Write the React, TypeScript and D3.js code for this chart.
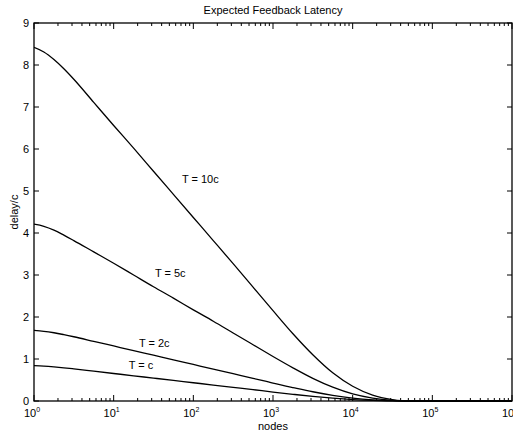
import React from "react";
import * as d3 from "d3";

const nodes = [1, 1.33, 1.78, 2.37, 3.16, 5.62, 10, 17.8, 31.6, 56.2, 100, 178, 316, 562, 1000, 1780, 3160, 5620, 10000, 17800, 31600, 50000, 100000, 1000000];
const t10c = [8.42, 8.31, 8.13, 7.91, 7.66, 7.11, 6.56, 6.02, 5.47, 4.92, 4.37, 3.82, 3.27, 2.71, 2.15, 1.6, 1.1, 0.67, 0.35, 0.14, 0.035, 0, 0, 0];
const t5c = [4.21, 4.16, 4.07, 3.95, 3.82, 3.55, 3.28, 3.0, 2.72, 2.45, 2.17, 1.9, 1.62, 1.34, 1.06, 0.79, 0.54, 0.33, 0.17, 0.07, 0.017, 0, 0, 0];
const t2c = [1.68, 1.66, 1.625, 1.58, 1.53, 1.42, 1.31, 1.2, 1.09, 0.98, 0.87, 0.76, 0.65, 0.54, 0.425, 0.32, 0.22, 0.135, 0.07, 0.028, 0.007, 0, 0, 0];
const tc = [0.84, 0.83, 0.812, 0.79, 0.765, 0.71, 0.655, 0.6, 0.545, 0.49, 0.435, 0.38, 0.325, 0.27, 0.213, 0.16, 0.11, 0.068, 0.035, 0.014, 0.004, 0, 0, 0];
const seriesLabels = ["T = 10c", "T = 5c", "T = 2c", "T = c"];
const labelAnchors = [[10 ** 1.857, 5.2], [10 ** 1.518, 2.95], [10 ** 1.317, 1.29], [10 ** 1.19, 0.76]];
const xTickExps = [0, 1, 2, 3, 4, 5, 6];
const yTicks = [0, 1, 2, 3, 4, 5, 6, 7, 8, 9];
const title = "Expected Feedback Latency";
const xLabel = "nodes";
const yLabel = "delay/c";

const W = 513, H = 434;
const L = 34, R = 512, T = 23, B = 401;
const FONT = "'Liberation Sans', Arial, Helvetica, sans-serif";

export default function App() {
  const x = d3.scaleLog().domain([1, 1e6]).range([L, R]);
  const y = d3.scaleLinear().domain([0, 9]).range([B, T]);
  const line = d3.line<[number, number]>().x(d => x(d[0])).y(d => y(d[1])).curve(d3.curveMonotoneX);
  const all = [t10c, t5c, t2c, tc];

  const minor: number[] = [];
  for (let e = 0; e < 6; e++) for (let k = 2; k <= 9; k++) minor.push(k * 10 ** e);

  return (
    <svg width={W} height={H} style={{ position: "absolute", left: 0, top: 0, background: "#fff" }} fontFamily={FONT}>
      <defs>
        <clipPath id="plot"><rect x={L} y={T - 1} width={R - L} height={B - T + 2} /></clipPath>
      </defs>
      <rect x={0} y={0} width={W} height={H} fill="#fff" />
      <text x={(L + R) / 2} y={14} fontSize={11} textAnchor="middle" fill="#000">{title}</text>
      <g clipPath="url(#plot)">
        {all.map((s, i) => (
          <path key={i} d={line(nodes.map((n, j) => [n, s[j]] as [number, number])) || ""} fill="none" stroke="#000" strokeWidth={1.3} />
        ))}
      </g>
      <rect x={L} y={T} width={R - L} height={B - T} fill="none" stroke="#000" strokeWidth={1.3} />
      {yTicks.map(v => (
        <g key={v}>
          <line x1={L} x2={L + 5} y1={y(v)} y2={y(v)} stroke="#000" strokeWidth={1} />
          <line x1={R} x2={R - 5} y1={y(v)} y2={y(v)} stroke="#000" strokeWidth={1} />
          <text x={29} y={y(v) + 4} fontSize={11} textAnchor="end" fill="#000">{v}</text>
        </g>
      ))}
      {xTickExps.map(e => (
        <g key={e}>
          <line x1={x(10 ** e)} x2={x(10 ** e)} y1={B} y2={B - 6} stroke="#000" strokeWidth={1} />
          <line x1={x(10 ** e)} x2={x(10 ** e)} y1={T} y2={T + 6} stroke="#000" strokeWidth={1} />
          <text x={x(10 ** e) - 2} y={417} fontSize={11} textAnchor="middle" fill="#000">
            10<tspan dy={-5} fontSize={7}>{e}</tspan>
          </text>
        </g>
      ))}
      {minor.map((v, i) => (
        <g key={i}>
          <line x1={x(v)} x2={x(v)} y1={B} y2={B - 3} stroke="#000" strokeWidth={1} />
          <line x1={x(v)} x2={x(v)} y1={T} y2={T + 3} stroke="#000" strokeWidth={1} />
        </g>
      ))}
      <text x={(L + R) / 2} y={430} fontSize={11} textAnchor="middle" fill="#000">{xLabel}</text>
      <text transform={`translate(18,${(T + B) / 2}) rotate(-90)`} fontSize={11} textAnchor="middle" fill="#000">{yLabel}</text>
      {seriesLabels.map((s, i) => (
        <text key={s} x={x(labelAnchors[i][0])} y={y(labelAnchors[i][1])} fontSize={11} textAnchor="start" fill="#000">{s}</text>
      ))}
    </svg>
  );
}
